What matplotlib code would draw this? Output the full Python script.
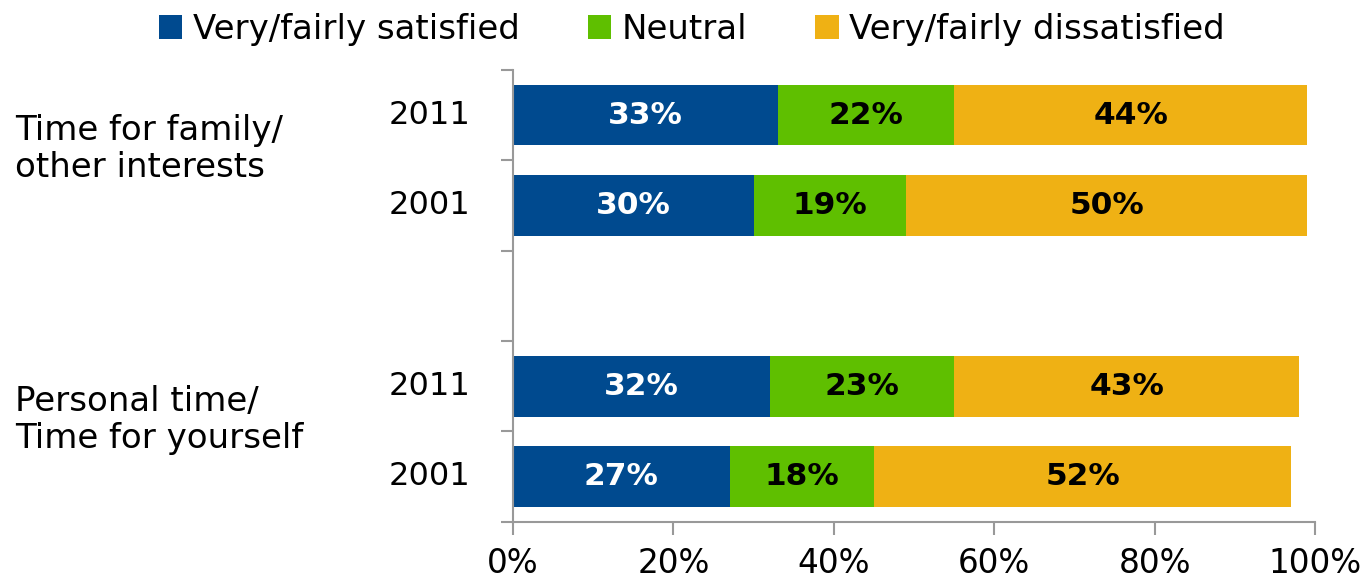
import matplotlib
matplotlib.use("Agg")
import matplotlib.pyplot as plt
from matplotlib.patches import Patch
import numpy as np

plt.rcParams['font.family'] = ['DejaVu Sans']

groups = ["Time for family/\nother interests", "Personal time/\nTime for yourself"]
years = ["2011", "2001", "2011", "2001"]
satisfied = [33, 30, 32, 27]
neutral = [22, 19, 23, 18]
dissatisfied = [44, 50, 43, 52]
series_names = ["Very/fairly satisfied", "Neutral", "Very/fairly dissatisfied"]
colors = ["#004A8F", "#5FBF00", "#EFB114"]
label_colors = ["white", "black", "black"]

ypos = np.array([0, 1, 3, 4])

fig = plt.figure(figsize=(13.7, 5.83), dpi=100)
ax = fig.add_axes([0.3745, 0.105, 0.5855, 0.775])

left = np.zeros(4)
for vals, c, tc in zip([satisfied, neutral, dissatisfied], colors, label_colors):
    vals = np.array(vals)
    ax.barh(ypos, vals, left=left, height=0.67, color=c, edgecolor="none")
    for y, l, v in zip(ypos, left, vals):
        ax.text(l + v / 2, y, f"{v}%", ha="center", va="center",
                color=tc, fontsize=22.5, fontweight="bold")
    left = left + vals

ax.set_xlim(0, 100)
ax.set_ylim(4.5, -0.5)
ax.set_xticks(range(0, 101, 20))
ax.set_xticklabels([f"{t}%" for t in range(0, 101, 20)], fontsize=23.5)
ax.set_yticks(np.arange(-0.5, 4.6, 1))
ax.set_yticklabels([])
for s in ["top", "right"]:
    ax.spines[s].set_visible(False)
for s in ["left", "bottom"]:
    ax.spines[s].set_color("#999999")
    ax.spines[s].set_linewidth(1.5)
ax.tick_params(axis="both", color="#999999", width=1.5, length=9)
ax.tick_params(axis="x", pad=9)

for y, yr in zip(ypos, years):
    ax.text(-5.3, y, yr, ha="right", va="center", fontsize=23)

for g, y in zip(groups, [0.5, 3.5]):
    yfig = ax.transData.transform((0, y))[1] / (fig.dpi * 5.83) + 0.02
    fig.text(0.011, yfig, g, ha="left", va="center", fontsize=24.5,
             linespacing=1.15)

handles = [Patch(facecolor=c, label=n) for c, n in zip(colors, series_names)]
fig.legend(handles=handles, loc="upper center", bbox_to_anchor=(0.505, 1.03),
           ncol=3, frameon=False, fontsize=24.5, handlelength=0.7, handleheight=0.7,
           handletextpad=0.3, columnspacing=2.0)

fig.savefig("out.png", dpi=100)
